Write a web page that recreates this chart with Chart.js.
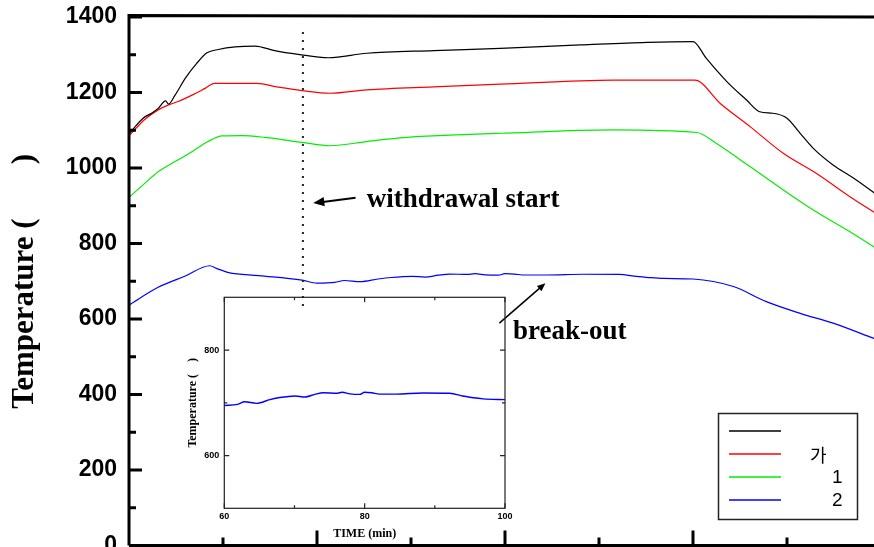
<!DOCTYPE html>
<html>
<head>
<meta charset="utf-8">
<script src="https://cdn.jsdelivr.net/npm/chart.js@4.4.0/dist/chart.umd.min.js"></script>
<style>
  html, body { margin: 0; padding: 0; background: #fff; overflow: hidden; }
  #wrap { position: relative; width: 874px; height: 547px; overflow: hidden; }
  #main { position: absolute; left: 0; top: 0; width: 900px; height: 620px; }
  #inset { position: absolute; left: 180px; top: 290px; width: 340px; height: 257px; }
</style>
</head>
<body>
<div id="wrap">
  <canvas id="main" width="900" height="620"></canvas>
  <canvas id="inset" width="340" height="257"></canvas>
</div>
<script>
// temperature profiles, time in min
const blackTime = [40, 41.5, 42.4, 43.1, 43.9, 44.2, 44.9, 46.0, 47.2, 48.3, 49.5, 51.3, 53.4, 55.5, 58.0, 61.2, 65.3, 72.4, 79.5, 88, 95.1, 100.0, 101.4, 103.6, 105.7, 107.1, 108.5, 110, 111.4, 112.8, 114.9, 117.1, 119.3];
const blackTemp = [1090, 1132, 1145, 1158, 1178, 1169, 1193, 1238, 1277, 1305, 1314, 1321, 1323, 1311, 1301, 1292, 1304, 1311, 1317, 1326, 1333, 1335, 1291, 1229, 1180, 1149, 1145, 1132, 1092, 1052, 1008, 973, 934];

const redTime = [40, 41.7, 43.1, 44.2, 45.2, 46.7, 48.1, 49.1, 51.3, 53.6, 55.9, 58.4, 61.4, 65.3, 72.4, 79.5, 91.5, 100.2, 102.9, 106.1, 109.6, 113.1, 116.7, 119.3];
const redTemp = [1085, 1129, 1154, 1167, 1176, 1193, 1211, 1224, 1224, 1224, 1214, 1205, 1198, 1207, 1215, 1222, 1233, 1233, 1171, 1109, 1039, 986, 924, 882];

const greenTime = [40, 41.7, 43.1, 44.9, 46.7, 48.4, 49.9, 52, 54.5, 58.4, 61.4, 65.3, 68.8, 74.1, 79.5, 91.5, 100.4, 102.5, 106.1, 109.6, 113.1, 116.7, 119.3];
const greenTemp = [922, 960, 990, 1017, 1043, 1070, 1085, 1086, 1081, 1068, 1059, 1070, 1080, 1087, 1092, 1101, 1094, 1065, 1003, 942, 884, 831, 790];

const blueTime = [40, 43.1, 46, 48.6, 49.3, 50.6, 53.8, 58.4, 60, 61.9, 62.9, 64.6, 66.5, 67.9, 70.1, 71.5, 72.9, 74.1, 76, 76.8, 77.9, 79.3, 80, 81, 82.1, 84.5, 88.3, 92.1, 94, 95.5, 96.9, 100, 104.3, 107.8, 111.4, 114.9, 119.3];
const blueTemp = [637, 684, 714, 741, 734, 723, 715, 703, 695, 697, 702, 699, 706, 710, 713, 711, 716, 719, 718, 720, 717, 716, 720, 719, 716.5, 716.5, 718.5, 718, 713, 709.5, 707.5, 706, 686, 646, 615, 589, 548];

const seriesLabels = ['', '가', '1', '2'];
const seriesColors = ['#000000', '#ff0000', '#00ee00', '#0000ff'];

const yTicks = [0, 200, 400, 600, 800, 1000, 1200, 1400];
const insetXTicks = [60, 80, 100];
const insetYTicks = [600, 800];

function pts(t, v) { return t.map((x, i) => ({ x: x, y: v[i] })); }

const insetPoints = pts(blueTime, blueTemp).filter(p => p.x >= 60 && p.x <= 100);

function arrow(ctx, x1, y1, x2, y2, head) {
  const ang = Math.atan2(y2 - y1, x2 - x1);
  ctx.beginPath();
  ctx.moveTo(x1, y1);
  ctx.lineTo(x2 - Math.cos(ang) * head * 0.8, y2 - Math.sin(ang) * head * 0.8);
  ctx.stroke();
  ctx.beginPath();
  ctx.moveTo(x2, y2);
  ctx.lineTo(x2 - head * Math.cos(ang - 0.4), y2 - head * Math.sin(ang - 0.4));
  ctx.lineTo(x2 - head * Math.cos(ang + 0.4), y2 - head * Math.sin(ang + 0.4));
  ctx.closePath();
  ctx.fill();
}

const mainFrame = {
  id: 'mainFrame',
  afterDraw(chart) {
    const { ctx, chartArea: a, scales: { x, y } } = chart;
    ctx.save();
    ctx.strokeStyle = '#000';
    ctx.lineWidth = 3;
    ctx.beginPath();
    ctx.moveTo(a.left, a.bottom); ctx.lineTo(a.left, a.top - 1.5); ctx.lineTo(a.right, a.top);
    ctx.moveTo(a.left, a.bottom); ctx.lineTo(a.right, a.bottom);
    ctx.stroke();
    // inward ticks
    ctx.beginPath();
    for (let v = 0; v <= 1400; v += 100) {
      const py = y.getPixelForValue(v);
      ctx.moveTo(a.left, py);
      ctx.lineTo(a.left + (v % 200 === 0 ? 13 : 7), py);
    }
    for (let t = 50; t <= 120; t += 10) {
      const px = x.getPixelForValue(t);
      ctx.moveTo(px, a.bottom);
      ctx.lineTo(px, a.bottom - (t % 20 === 0 ? 15 : 8));
    }
    ctx.stroke();

    // withdrawal start marker
    ctx.strokeStyle = '#222';
    ctx.lineWidth = 2;
    ctx.setLineDash([2, 6]);
    ctx.beginPath();
    ctx.moveTo(x.getPixelForValue(58.5), y.getPixelForValue(1360));
    ctx.lineTo(x.getPixelForValue(58.5), y.getPixelForValue(633));
    ctx.stroke();
    ctx.setLineDash([]);

    ctx.strokeStyle = '#000';
    ctx.fillStyle = '#000';
    ctx.lineWidth = 2;
    arrow(ctx, x.getPixelForValue(64.1), y.getPixelForValue(921), x.getPixelForValue(59.6), y.getPixelForValue(907), 12);
    ctx.lineWidth = 1.5;
    arrow(ctx, x.getPixelForValue(79.4), y.getPixelForValue(589), x.getPixelForValue(84.3), y.getPixelForValue(695), 9);

    ctx.font = 'bold 27px "Liberation Serif"';
    ctx.textBaseline = 'middle';
    ctx.textAlign = 'left';
    ctx.fillText('withdrawal start', x.getPixelForValue(65.3), y.getPixelForValue(915));
    ctx.fillText('break-out', x.getPixelForValue(80.85), y.getPixelForValue(566));

    // legend
    ctx.lineWidth = 1.5;
    ctx.strokeStyle = '#222';
    ctx.strokeRect(718.5, 413.5, 139, 106);
    chart.data.datasets.forEach((ds, i) => {
      const ly = 431 + i * 23;
      ctx.strokeStyle = ds.borderColor;
      ctx.lineWidth = 1.3;
      ctx.beginPath();
      ctx.moveTo(729, ly); ctx.lineTo(781, ly);
      ctx.stroke();
      ctx.fillStyle = '#000';
      const isDigit = /^[0-9]+$/.test(ds.label);
      ctx.font = isDigit ? '19px "Liberation Sans"' : '18px "Noto Sans CJK KR"';
      ctx.fillText(ds.label, isDigit ? 832 : 810, ly + 1);
    });
    ctx.restore();
  }
};

const insetFrame = {
  id: 'insetFrame',
  afterDraw(chart) {
    const { ctx, chartArea: a, scales: { x, y } } = chart;
    ctx.save();
    ctx.strokeStyle = '#222';
    ctx.lineWidth = 1.2;
    ctx.strokeRect(a.left, a.top, a.right - a.left, a.bottom - a.top);
    ctx.beginPath();
    for (let v = 600; v <= 800; v += 100) {
      const py = y.getPixelForValue(v);
      const len = v % 200 === 0 ? 5 : 3;
      ctx.moveTo(a.left, py); ctx.lineTo(a.left + len, py);
      ctx.moveTo(a.right, py); ctx.lineTo(a.right - len, py);
    }
    for (let t = 60; t <= 100; t += 10) {
      const px = x.getPixelForValue(t);
      const len = t % 20 === 0 ? 5 : 3;
      ctx.moveTo(px, a.bottom); ctx.lineTo(px, a.bottom - len);
      ctx.moveTo(px, a.top); ctx.lineTo(px, a.top + len);
    }
    ctx.stroke();
    ctx.restore();
  }
};

new Chart(document.getElementById('main'), {
  type: 'line',
  data: {
    datasets: [
      { label: seriesLabels[0], data: pts(blackTime, blackTemp), borderColor: seriesColors[0] },
      { label: seriesLabels[1], data: pts(redTime, redTemp), borderColor: seriesColors[1] },
      { label: seriesLabels[2], data: pts(greenTime, greenTemp), borderColor: seriesColors[2] },
      { label: seriesLabels[3], data: pts(blueTime, blueTemp), borderColor: seriesColors[3] }
    ].map(d => Object.assign(d, { borderWidth: 1.2, pointRadius: 0, cubicInterpolationMode: 'monotone', fill: false }))
  },
  options: {
    responsive: false,
    animation: false,
    devicePixelRatio: 1,
    layout: { padding: { top: 17, right: 19, left: 0, bottom: 0 } },
    plugins: { legend: { display: false }, tooltip: { enabled: false } },
    scales: {
      x: {
        type: 'linear', min: 40, max: 120,
        grid: { display: false, drawTicks: false },
        border: { display: false },
        ticks: { display: false },
        afterFit: s => { s.height = 74.5; }
      },
      y: {
        min: 0, max: 1400,
        grid: { display: false, drawTicks: false },
        border: { display: false },
        afterBuildTicks: s => { s.ticks = yTicks.map(v => ({ value: v })); },
        ticks: { padding: 12, color: '#000', callback: v => String(v), font: { family: 'Liberation Sans', size: 23, weight: 'bold' } },
        title: {
          display: true, text: 'Temperature (       )', color: '#000',
          font: { family: 'Liberation Serif', size: 31, weight: 'bold' },
          padding: { top: 6, bottom: 0 }
        },
        afterFit: s => { s.width = 129; s.paddingTop = 0; s.paddingBottom = 0; }
      }
    }
  },
  plugins: [mainFrame]
});

new Chart(document.getElementById('inset'), {
  type: 'line',
  data: {
    datasets: [{ data: insetPoints, borderColor: seriesColors[3], borderWidth: 1.4, pointRadius: 0, cubicInterpolationMode: 'monotone', fill: false }]
  },
  options: {
    responsive: false,
    animation: false,
    devicePixelRatio: 1,
    layout: { padding: { top: 7.3, right: 15, left: 0, bottom: 0 } },
    plugins: { legend: { display: false }, tooltip: { enabled: false } },
    scales: {
      x: {
        type: 'linear', min: 60, max: 100,
        grid: { display: false, drawTicks: false },
        border: { display: false },
        afterBuildTicks: s => { s.ticks = insetXTicks.map(v => ({ value: v })); },
        ticks: { padding: 3, maxRotation: 0, color: '#000', font: { family: 'Liberation Sans', size: 9, weight: 'bold' } },
        title: {
          display: true, text: 'TIME (min)', color: '#000',
          font: { family: 'Liberation Serif', size: 12, weight: 'bold' },
          padding: { top: 0, bottom: 6 }
        },
        afterFit: s => { s.height = 38.7; }
      },
      y: {
        min: 500, max: 900,
        grid: { display: false, drawTicks: false },
        border: { display: false },
        afterBuildTicks: s => { s.ticks = insetYTicks.map(v => ({ value: v })); },
        ticks: { padding: 5, color: '#000', font: { family: 'Liberation Sans', size: 9, weight: 'bold' } },
        title: {
          display: true, text: 'Temperature (    )', color: '#000',
          font: { family: 'Liberation Serif', size: 12, weight: 'bold' },
          padding: { top: 6, bottom: 0 }
        },
        afterFit: s => { s.width = 44.3; s.paddingTop = 0; s.paddingBottom = 0; }
      }
    }
  },
  plugins: [insetFrame]
});
</script>
</body>
</html>
